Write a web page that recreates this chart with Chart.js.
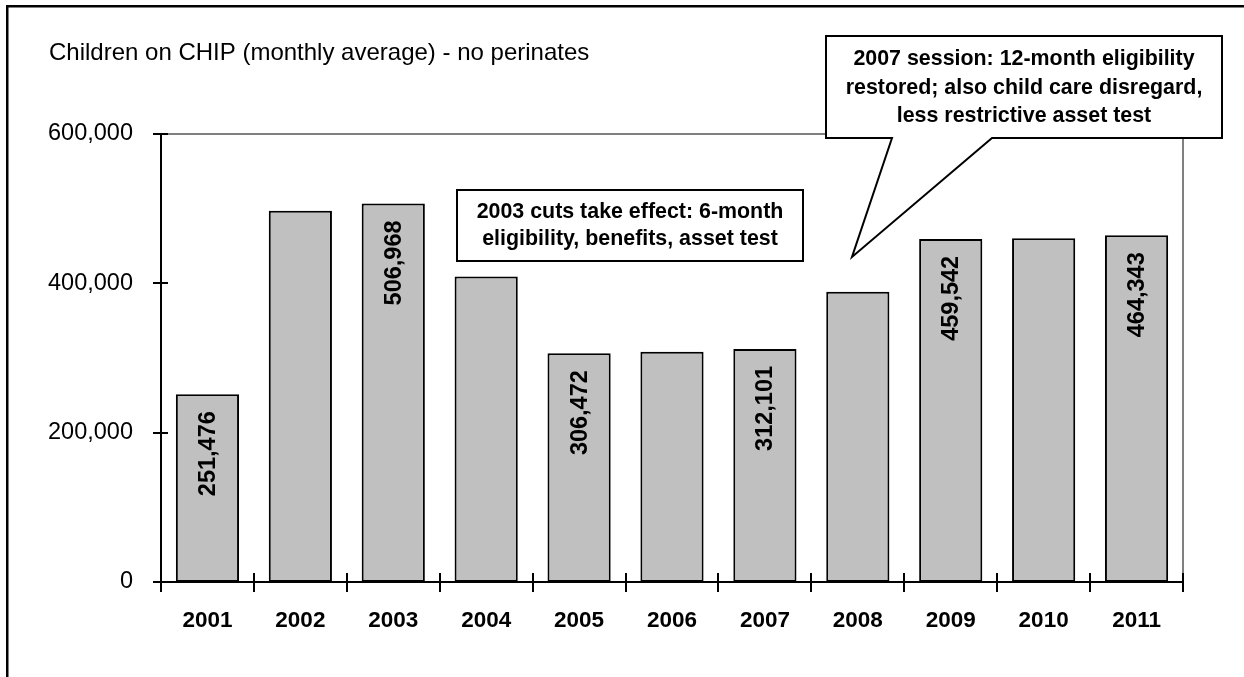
<!DOCTYPE html>
<html>
<head>
<meta charset="utf-8">
<title>Children on CHIP</title>
<script src="https://cdn.jsdelivr.net/npm/chart.js@4/dist/chart.umd.min.js"></script>
<style>
  html, body { margin: 0; padding: 0; background: #ffffff; }
  #wrap { width: 1244px; height: 677px; }
</style>
</head>
<body>
<div id="wrap"><canvas id="chart" width="1244" height="677"></canvas></div>
<script>
// Enrollment by year (monthly average, no perinates)
const years = ['2001', '2002', '2003', '2004', '2005', '2006', '2007', '2008', '2009', '2010', '2011'];
const children = [251476, 497300, 506968, 409200, 306472, 308500, 312101, 388700, 459542, 460400, 464343];
const labeledYears = ['2001', '2003', '2005', '2007', '2009', '2011'];
const yTickValues = [0, 200000, 400000, 600000];

const titleText = 'Children on CHIP (monthly average) - no perinates';
const cutsNote = ['2003 cuts take effect: 6-month', 'eligibility, benefits, asset test'];
const sessionNote = ['2007 session: 12-month eligibility', 'restored; also child care disregard,', 'less restrictive asset test'];

const FONT = '"Liberation Sans", Arial, Helvetica, sans-serif';
const fmt = v => Number(v).toLocaleString('en-US');

// Page layout for the frame, title and the two notes
const layoutBox = {
  axisLeft: 161,
  plotTop: 134,
  plotRightPad: 61,
  xAxisHeight: 95,
  title: { x: 49, y: 60 },
  cuts: { x1: 457, y1: 190, x2: 803, y2: 261, baselines: [218, 245] },
  session: { x1: 826, y1: 36, x2: 1222, y2: 138, baselines: [65, 94, 122],
             baseL: 892, baseR: 992, tipX: 852, tipY: 257 }
};

const decorations = {
  id: 'decorations',
  beforeDraw(chart) {
    const ctx = chart.ctx;
    ctx.save();
    ctx.fillStyle = '#ffffff';
    ctx.fillRect(0, 0, chart.width, chart.height);
    // outer frame (runs off the right and bottom edges)
    ctx.strokeStyle = '#000000';
    ctx.lineWidth = 2.5;
    ctx.beginPath();
    ctx.moveTo(7.25, chart.height + 5);
    ctx.lineTo(7.25, 6.25);
    ctx.lineTo(chart.width + 5, 6.25);
    ctx.stroke();
    // title
    ctx.fillStyle = '#000000';
    ctx.font = '24px ' + FONT;
    ctx.textAlign = 'left';
    ctx.textBaseline = 'alphabetic';
    ctx.fillText(titleText, layoutBox.title.x, layoutBox.title.y);
    // grey top and right edges of the plot area
    const a = chart.chartArea;
    ctx.strokeStyle = '#808080';
    ctx.lineWidth = 2;
    ctx.beginPath();
    ctx.moveTo(a.left, a.top);
    ctx.lineTo(a.right, a.top);
    ctx.lineTo(a.right, a.bottom);
    ctx.stroke();
    ctx.restore();
  },
  afterDraw(chart) {
    const ctx = chart.ctx;
    const a = chart.chartArea;
    const xs = chart.scales.x;
    const ys = chart.scales.y;
    ctx.save();
    // tick marks crossing both axes
    ctx.strokeStyle = '#000000';
    ctx.lineWidth = 2;
    ctx.beginPath();
    for (let i = 0; i <= years.length; i++) {
      const px = Math.round(xs.getPixelForValue(i - 0.5));
      ctx.moveTo(px, a.bottom - 9);
      ctx.lineTo(px, a.bottom + 10);
    }
    yTickValues.forEach(v => {
      const py = Math.round(ys.getPixelForValue(v));
      ctx.moveTo(a.left - 8, py);
      ctx.lineTo(a.left + 7, py);
    });
    ctx.stroke();

    // value labels inside the bars, rotated
    const meta = chart.getDatasetMeta(0);
    ctx.fillStyle = '#000000';
    ctx.font = 'bold 23.5px ' + FONT;
    ctx.textAlign = 'right';
    ctx.textBaseline = 'middle';
    meta.data.forEach((bar, i) => {
      if (!labeledYears.includes(years[i])) return;
      ctx.save();
      ctx.translate(bar.x + 1, bar.y + 17);
      ctx.rotate(-Math.PI / 2);
      ctx.fillText(fmt(children[i]), 0, 0);
      ctx.restore();
    });

    // note box about the 2003 cuts
    const c = layoutBox.cuts;
    ctx.fillStyle = '#ffffff';
    ctx.fillRect(c.x1, c.y1, c.x2 - c.x1, c.y2 - c.y1);
    ctx.strokeStyle = '#000000';
    ctx.lineWidth = 2;
    ctx.strokeRect(c.x1, c.y1, c.x2 - c.x1, c.y2 - c.y1);
    ctx.fillStyle = '#000000';
    ctx.font = 'bold 21.4px ' + FONT;
    ctx.textAlign = 'center';
    ctx.textBaseline = 'alphabetic';
    cutsNote.forEach((line, i) => ctx.fillText(line, (c.x1 + c.x2) / 2, c.baselines[i]));

    // callout about the 2007 session
    const s = layoutBox.session;
    ctx.beginPath();
    ctx.moveTo(s.x1, s.y1);
    ctx.lineTo(s.x2, s.y1);
    ctx.lineTo(s.x2, s.y2);
    ctx.lineTo(s.baseR, s.y2);
    ctx.lineTo(s.tipX, s.tipY);
    ctx.lineTo(s.baseL, s.y2);
    ctx.lineTo(s.x1, s.y2);
    ctx.closePath();
    ctx.fillStyle = '#ffffff';
    ctx.fill();
    ctx.lineWidth = 2;
    ctx.lineJoin = 'miter';
    ctx.strokeStyle = '#000000';
    ctx.stroke();
    ctx.fillStyle = '#000000';
    sessionNote.forEach((line, i) => ctx.fillText(line, (s.x1 + s.x2) / 2, s.baselines[i]));
    ctx.restore();
  }
};

new Chart(document.getElementById('chart'), {
  type: 'bar',
  data: {
    labels: years,
    datasets: [{
      data: children,
      backgroundColor: '#c0c0c0',
      borderColor: '#000000',
      borderWidth: 2,
      borderSkipped: false,
      barPercentage: 0.68,
      categoryPercentage: 1.0
    }]
  },
  options: {
    responsive: false,
    animation: false,
    devicePixelRatio: 1,
    layout: { padding: { left: 0, top: layoutBox.plotTop, right: layoutBox.plotRightPad, bottom: 0 } },
    plugins: { legend: { display: false }, tooltip: { enabled: false }, title: { display: false } },
    scales: {
      x: {
        type: 'category',
        offset: true,
        grid: { display: false },
        border: { display: true, color: '#000000', width: 2 },
        ticks: {
          color: '#000000',
          font: { family: FONT, size: 22.5, weight: 'bold' },
          padding: 17,
          maxRotation: 0,
          autoSkip: false
        },
        afterFit(scale) { scale.height = layoutBox.xAxisHeight; }
      },
      y: {
        min: 0,
        max: 600000,
        grid: { display: false },
        border: { display: true, color: '#000000', width: 2 },
        afterBuildTicks(scale) { scale.ticks = yTickValues.map(v => ({ value: v })); },
        ticks: {
          color: '#000000',
          font: { family: FONT, size: 23.5 },
          padding: 20,
          callback: v => fmt(v)
        },
        afterFit(scale) { scale.width = layoutBox.axisLeft; }
      }
    }
  },
  plugins: [decorations]
});
</script>
</body>
</html>
